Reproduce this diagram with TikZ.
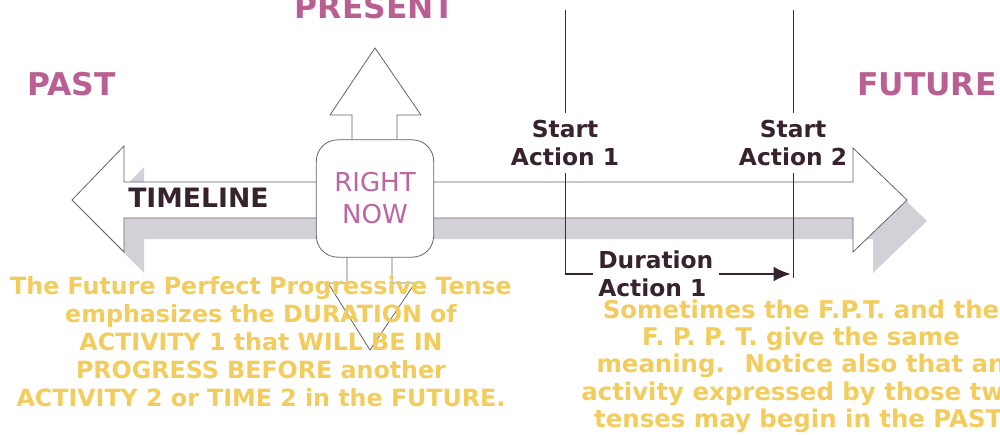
\documentclass[tikz,border=0pt]{standalone}
\usepackage{fontspec}
\setmainfont{DejaVu Sans}
\usetikzlibrary{scopes,arrows.meta}
\definecolor{eraPink}{RGB}{185,95,145}
\definecolor{nowPink}{RGB}{190,100,160}
\definecolor{noteGold}{RGB}{242,204,92}
\definecolor{darkText}{RGB}{55,35,45}
\definecolor{shadowGrey}{RGB}{212,208,216}
\definecolor{edge}{RGB}{100,100,100}
\begin{document}
\begin{tikzpicture}[
    x=0.75pt,y=-0.75pt,
    era/.style={text=eraPink,font=\fontsize{23.5}{28}\selectfont\bfseries,inner sep=0pt},
    startlbl/.style={text=darkText,font=\fontsize{17.5}{21}\selectfont\bfseries,align=center,inner sep=5pt,anchor=north},
    note/.style={text=noteGold,font=\fontsize{17.8}{21}\selectfont\bfseries,align=center,inner sep=0pt,anchor=north},
    outline/.style={draw=edge,fill=white,line width=0.6pt},
    timemark/.style={draw=black!80,line width=0.6pt},
    durline/.style={draw=darkText,line width=1.6pt},
    mainarrow/.style={insert path={(72,200) -- (124,146) -- (124,182) -- (853,182) -- (853,148)
        -- (907,200) -- (853,252) -- (853,218) -- (124,218) -- (124,252) -- cycle}},
]
    \useasboundingbox (0,0) rectangle (1000,435);
    \fill[shadowGrey,shift={(20,21)},mainarrow];
    \draw[outline,mainarrow];
    \draw[outline] (352,140) -- (352,115) -- (330,115) -- (375,48) -- (421,115) -- (397,115) -- (397,140);
    \draw[outline] (347,257) -- (347,283) -- (328,283) -- (370,350) -- (415,283) -- (392,283) -- (392,257);
    \node[outline,rounded corners=16pt,minimum width=88pt,minimum height=88pt,text=nowPink,
        font=\fontsize{19.5}{24}\selectfont,align=center] (now) at (375,198.5) {RIGHT\\NOW};

    \node[era,anchor=base west] (past) at (27,96) {PAST};
    \node[era,anchor=base] (present) at (375,19) {PRESENT};
    \node[era,anchor=base west] (future) at (857,96) {FUTURE};
    \node[anchor=base west,inner sep=0pt,text=darkText,font=\fontsize{20}{24}\selectfont\bfseries] (timeline) at (128,207) {TIMELINE};

    \node[startlbl] (start1) at (565,113) {Start\\Action 1};
    \node[startlbl] (start2) at (793,113) {Start\\Action 2};
    \coordinate (top1) at (565,10);
    \coordinate (foot1) at (565,274);
    \coordinate (top2) at (793,10);
    \coordinate (foot2) at (793,278);
    \coordinate (tip) at (791,274);
    {[timemark]
        \draw (top1) -- (start1);
        \draw (start1) -- (foot1);
        \draw (top2) -- (start2);
        \draw (start2) -- (foot2);
    }
    \node[anchor=north west,inner sep=4pt,text=darkText,font=\fontsize{17.5}{21.5}\selectfont\bfseries,align=left] (dur) at (592.7,245) {Duration\\Action 1};
    {[durline]
        \draw (foot1) -- (foot1 -| dur.west);
        \draw[-{Latex[length=13pt,width=11pt]}] (foot1 -| dur.east) -- (tip);
    }

    \node[note] (fppt) at (261,276) {The Future Perfect Progressive Tense\\emphasizes the DURATION of\\ACTIVITY 1 that WILL BE IN\\PROGRESS BEFORE another\\ACTIVITY 2 or TIME 2 in the FUTURE.};
    \node[note,font=\fontsize{18.3}{20.3}\selectfont\bfseries] (same) at (801,300) {Sometimes the F.P.T. and the\\F. P. P. T. give the same\\meaning.~ Notice also that an\\activity expressed by those two\\tenses may begin in the PAST.};
\end{tikzpicture}
\end{document}
